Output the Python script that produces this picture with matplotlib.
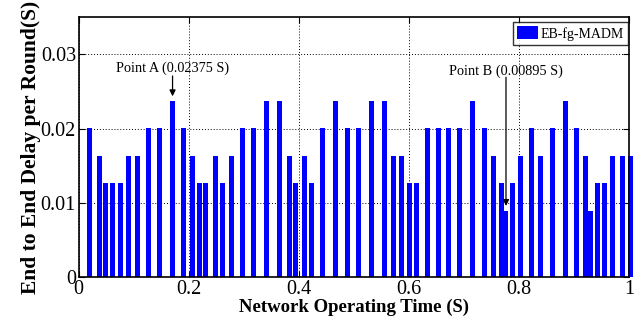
import matplotlib
matplotlib.use("Agg")
import matplotlib.pyplot as plt


# bar positions (network operating time, s)
times = [
    0.020, 0.037, 0.049, 0.061, 0.075, 0.091, 0.107, 0.127, 0.147, 0.170,
    0.190, 0.207, 0.219, 0.231, 0.249, 0.261, 0.277, 0.297, 0.317, 0.341,
    0.365, 0.382, 0.394, 0.410, 0.423, 0.443, 0.467, 0.488, 0.508, 0.532,
    0.555, 0.572, 0.587, 0.600, 0.613, 0.633, 0.653, 0.672, 0.692, 0.716,
    0.737, 0.753, 0.767, 0.776, 0.788, 0.803, 0.823, 0.839, 0.860, 0.884,
    0.904, 0.920, 0.930, 0.942, 0.955, 0.970, 0.988, 1.003,
]

# end to end delay per round (s)
delays = [
    0.02005, 0.01635, 0.01265, 0.01265, 0.01265, 0.01635, 0.01635, 0.02005, 0.02005, 0.02375,
    0.02005, 0.01635, 0.01265, 0.01265, 0.01635, 0.01265, 0.01635, 0.02005, 0.02005, 0.02375,
    0.02375, 0.01635, 0.01265, 0.01635, 0.01265, 0.02005, 0.02375, 0.02005, 0.02005, 0.02375,
    0.02375, 0.01635, 0.01635, 0.01265, 0.01265, 0.02005, 0.02005, 0.02005, 0.02005, 0.02375,
    0.02005, 0.01635, 0.01265, 0.00895, 0.01265, 0.01635, 0.02005, 0.01635, 0.02005, 0.02375,
    0.02005, 0.01635, 0.00895, 0.01265, 0.01265, 0.01635, 0.01635, 0.01635,
]

x_ticks = [0, 0.2, 0.4, 0.6, 0.8, 1]
x_tick_labels = ["0", "0.2", "0.4", "0.6", "0.8", "1"]
y_ticks = [0, 0.01, 0.02, 0.03]
y_tick_labels = ["0", "0.01", "0.02", "0.03"]

plt.rcParams["font.family"] = ["Liberation Serif", "DejaVu Serif"]

fig = plt.figure(figsize=(6.38, 3.26), dpi=100)
ax = fig.add_axes([0.1234, 0.1494, 0.8630, 0.7976])

ax.bar(times, delays, width=0.009, color="#0000ff", label="EB-fg-MADM",
       zorder=2, clip_on=False)

ax.set_xlim(0, 1)
ax.set_ylim(0, 0.035)
ax.set_xticks(x_ticks)
ax.set_xticklabels(x_tick_labels)
ax.set_yticks(y_ticks)
ax.set_yticklabels(y_tick_labels)
ax.tick_params(direction="in", top=True, right=True, labelsize=14.5,
               length=4, width=0.8, pad=2)

ax.grid(True, linestyle=(0, (1, 2)), color="black", linewidth=0.7)
ax.set_axisbelow(True)
for sp in ax.spines.values():
    sp.set_linewidth(1.2)

ax.set_xlabel("Network Operating Time (S)", fontsize=13.5, fontweight="bold",
              labelpad=0)
ax.set_ylabel("End to End Delay per Round(S)", fontsize=15.5, fontweight="bold",
              labelpad=0)

# point annotations
ax.text(0.1704, 0.02815, "Point A (0.02375 S)", fontsize=10.3,
        ha="center", va="center")
ax.annotate("", xy=(0.1704, 0.02436), xytext=(0.1704, 0.0271),
            arrowprops=dict(arrowstyle="-|>", color="black", lw=0.9,
                            mutation_scale=9, shrinkA=0, shrinkB=0))
ax.text(0.775, 0.02774, "Point B (0.00895 S)", fontsize=10.3,
        ha="center", va="center")
ax.annotate("", xy=(0.776, 0.0096), xytext=(0.776, 0.02692),
            arrowprops=dict(arrowstyle="-|>", color="black", lw=0.9,
                            mutation_scale=9, shrinkA=0, shrinkB=0))

leg = ax.legend(loc="upper right", bbox_to_anchor=(0.998, 0.982), fontsize=10,
                frameon=True, fancybox=False, borderaxespad=0.0,
                handlelength=1.5, handleheight=1.1, borderpad=0.3,
                handletextpad=0.2)
leg.get_frame().set_edgecolor("black")
leg.get_frame().set_linewidth(1.0)

fig.savefig("out.png", dpi=100)
